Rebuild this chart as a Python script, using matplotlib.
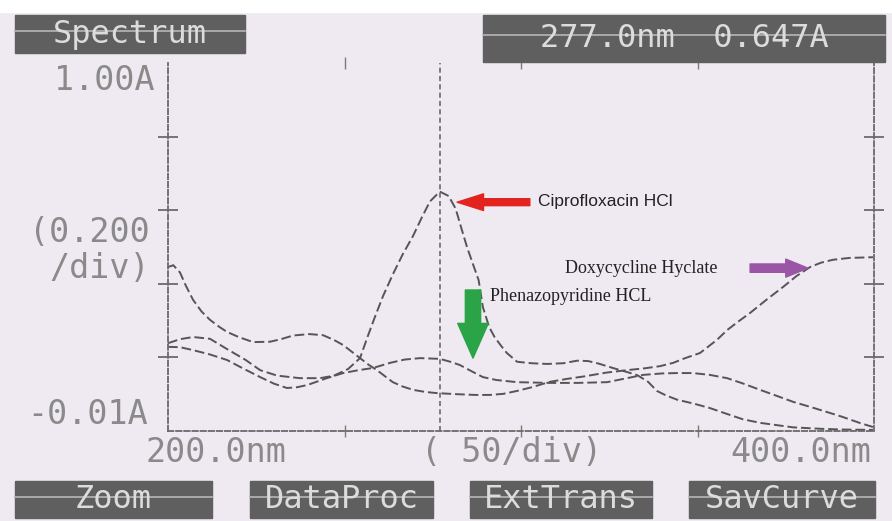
import numpy as np
import matplotlib.pyplot as plt
from matplotlib.patches import Rectangle

# spectra: wavelength (nm) and absorbance (A)
cipro_wl = [200.0, 203.4, 207.1, 211.9, 216.7, 222.0, 226.1, 230.9, 237.4, 243.1,
            247.0, 251.0, 254.4, 256.4, 258.5, 260.9, 263.7, 266.5, 269.4, 272.0,
            274.2, 277.0, 279.5, 281.5, 283.0, 284.7, 286.5, 288.0, 289.2, 291.0,
            292.5, 294.5, 296.0, 298.9, 303.0, 307.4, 312.0, 315.9, 319.0, 322.0,
            326.0, 330.0, 333.0, 336.0, 338.5, 341.0, 344.2, 349.0, 353.5, 358.0,
            362.9, 368.0, 377.1, 385.0, 391.2, 399.7]
cipro_abs = [0.231, 0.242, 0.248, 0.243, 0.215, 0.185, 0.157, 0.142, 0.135, 0.135,
             0.142, 0.160, 0.190, 0.245, 0.300, 0.360, 0.420, 0.475, 0.525, 0.578,
             0.620, 0.647, 0.635, 0.600, 0.550, 0.495, 0.445, 0.404, 0.330, 0.275,
             0.248, 0.222, 0.204, 0.180, 0.176, 0.174, 0.176, 0.183, 0.182, 0.175,
             0.163, 0.152, 0.143, 0.125, 0.100, 0.088, 0.076, 0.065, 0.053, 0.038,
             0.022, 0.012, 0.000, -0.004, -0.006, -0.007]

doxy_wl = [200.0, 201.5, 203.4, 205.0, 207.1, 209.5, 211.9, 214.5, 216.7, 220.0,
           224.1, 228.9, 232.0, 235.4, 240.0, 243.9, 247.0, 249.6, 252.0, 254.4,
           256.8, 259.2, 261.5, 263.7, 266.5, 269.4, 273.0, 276.2, 282.0, 287.0,
           291.2, 295.0, 298.9, 303.0, 308.2, 313.0, 318.0, 324.0, 330.0, 335.0,
           339.4, 343.1, 346.5, 350.7, 355.5, 358.4, 361.5, 364.9, 369.5, 374.2,
           378.0, 381.9, 385.0, 388.4, 393.0, 399.7]
doxy_abs = [0.440, 0.445, 0.425, 0.390, 0.350, 0.318, 0.295, 0.276, 0.262, 0.248,
            0.234, 0.235, 0.242, 0.252, 0.256, 0.253, 0.240, 0.226, 0.208, 0.190,
            0.172, 0.157, 0.140, 0.124, 0.112, 0.103, 0.097, 0.094, 0.091, 0.089,
            0.089, 0.092, 0.100, 0.110, 0.125, 0.133, 0.140, 0.150, 0.157, 0.162,
            0.168, 0.177, 0.190, 0.204, 0.240, 0.267, 0.290, 0.314, 0.350, 0.385,
            0.415, 0.440, 0.452, 0.460, 0.465, 0.467]

phen_wl = [200.0, 203.4, 207.1, 211.9, 216.7, 221.0, 226.1, 230.0, 233.7, 236.5,
           239.4, 245.0, 249.6, 254.0, 258.1, 262.9, 267.0, 271.4, 277.0, 280.0,
           282.7, 286.0, 289.2, 293.0, 298.9, 308.2, 316.0, 324.4, 329.0, 334.6,
           340.0, 344.2, 348.7, 353.5, 358.4, 363.0, 367.7, 372.0, 377.1, 382.0,
           386.7, 391.0, 396.0, 399.7]
phen_abs = [0.221, 0.220, 0.212, 0.200, 0.185, 0.163, 0.138, 0.120, 0.108, 0.110,
            0.116, 0.135, 0.149, 0.157, 0.163, 0.177, 0.186, 0.190, 0.188, 0.180,
            0.171, 0.154, 0.138, 0.130, 0.124, 0.122, 0.122, 0.124, 0.133, 0.144,
            0.148, 0.149, 0.149, 0.144, 0.135, 0.120, 0.103, 0.088, 0.070, 0.056,
            0.042, 0.029, 0.012, 0.001]

cursor_wl = 277.0
cursor_abs = 0.647
wl_range = (200.0, 400.0)
abs_range = (-0.01, 1.00)

W, H = 892, 521
paper = '#efe9f1'
grey_txt = '#8a8a8a'
mono = 'DejaVu Sans Mono'


def fx(px):
    return px / W


def fy(py):
    return 1 - py / H


fig = plt.figure(figsize=(W / 100, H / 100), dpi=100, facecolor=paper)
fig.add_artist(Rectangle((0, fy(12)), 1, 12 / H, transform=fig.transFigure,
                         color='white', zorder=0))


def key_box(x0, x1, y0, y1, label):
    # dark inverse-video box like the instrument's soft keys
    fig.add_artist(Rectangle((fx(x0), fy(y1)), fx(x1 - x0), (y1 - y0) / H,
                             transform=fig.transFigure, color='#5f5f5f', zorder=1))
    ys = y0 + 0.42 * (y1 - y0)
    fig.add_artist(plt.Line2D([fx(x0), fx(x1)], [fy(ys), fy(ys)],
                              transform=fig.transFigure, color='#b9b4bb', lw=1.2, zorder=2))
    fig.text(fx((x0 + x1) / 2), fy((y0 + y1) / 2), label, ha='center', va='center',
             family=mono, fontsize=23, color='#dcdcdc', zorder=3)


key_box(15, 245, 15, 53, 'Spectrum')
key_box(483, 885, 15, 62, '%.1fnm  %.3fA' % (cursor_wl, cursor_abs))
key_box(15, 212, 481, 518, 'Zoom')
key_box(250, 433, 481, 518, 'DataProc')
key_box(470, 652, 481, 518, 'ExtTrans')
key_box(689, 875, 481, 518, 'SavCurve')

ax = fig.add_axes([fx(168), fy(431), fx(874 - 168), (431 - 63) / H])
ax.set_facecolor('none')
ax.set_xlim(*wl_range)
ax.set_ylim(*abs_range)

for wl, a in [(doxy_wl, doxy_abs), (cipro_wl, cipro_abs), (phen_wl, phen_abs)]:
    ax.plot(wl, a, color='#555555', lw=1.4, ls=(0, (5, 2)))

ax.axvline(cursor_wl, color='#6a6a6a', lw=1.2, ls=(0, (3, 2)))

ax.spines['top'].set_visible(False)
for s in ['left', 'right', 'bottom']:
    ax.spines[s].set_color('#6a6a6a')
    ax.spines[s].set_linewidth(1.3)
    ax.spines[s].set_linestyle((0, (3, 1.5)))

ax.set_yticks(np.linspace(abs_range[0], abs_range[1], 6)[1:-1])
ax.set_xticks([250, 300, 350])
ax.tick_params(axis='y', left=True, right=True, direction='inout', length=14,
               width=1.3, color='#6a6a6a', labelleft=False)
ax.tick_params(axis='x', top=True, bottom=True, direction='inout', length=8,
               width=1.0, color='#7a7a7a', labelbottom=False)

# scale labels printed by the instrument
lab = dict(family=mono, fontsize=24, color=grey_txt, va='center')
fig.text(fx(155), fy(81), '1.00A', ha='right', **lab)
fig.text(fx(150), fy(233), '(0.200', ha='right', **lab)
fig.text(fx(150), fy(268), '/div)', ha='right', **lab)
fig.text(fx(148), fy(414), '-0.01A', ha='right', **lab)
fig.text(fx(145), fy(453), '200.0nm', ha='left', **lab)
fig.text(fx(421), fy(453), '( 50/div)', ha='left', **lab)
fig.text(fx(871), fy(453), '400.0nm', ha='right', **lab)

# pasted-on labels and arrows
ax.annotate('', xy=(281.9, 0.618), xytext=(302.5, 0.618),
            arrowprops=dict(arrowstyle='simple,head_length=19,head_width=12,tail_width=5',
                            mutation_scale=1, color='#e3231d', shrinkA=0, shrinkB=0))
ax.text(304.8, 0.620, 'Ciprofloxacin HCl', ha='left', va='center',
        family=['Liberation Sans'], fontsize=12.5, color='#222222')

ax.annotate('', xy=(381.3, 0.437), xytext=(364.9, 0.437),
            arrowprops=dict(arrowstyle='simple,head_length=16,head_width=13,tail_width=6',
                            mutation_scale=1, color='#9b55a6', shrinkA=0, shrinkB=0))
ax.text(312.5, 0.437, 'Doxycycline Hyclate', ha='left', va='center',
        family=['Liberation Serif'], fontsize=13, color='#222222')

ax.annotate('', xy=(286.4, 0.19), xytext=(286.4, 0.377),
            arrowprops=dict(arrowstyle='simple,head_length=25,head_width=22,tail_width=11',
                            mutation_scale=1, color='#2aa446', shrinkA=0, shrinkB=0))
ax.text(291.2, 0.358, 'Phenazopyridine HCL', ha='left', va='center',
        family=['Liberation Serif'], fontsize=13, color='#222222')

fig.savefig('out.png', dpi=100, facecolor=paper)
